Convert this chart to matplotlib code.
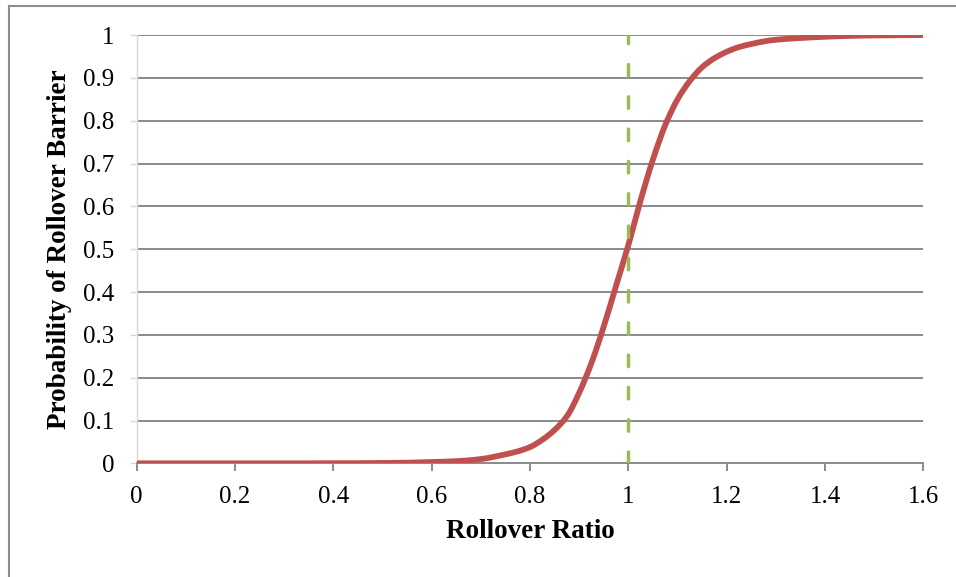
import matplotlib
matplotlib.use("Agg")
import matplotlib.pyplot as plt
from matplotlib.lines import Line2D
from matplotlib.path import Path
from matplotlib.patches import PathPatch

# Data
rollover_ratio = [0.0, 0.1, 0.2, 0.3, 0.4, 0.5, 0.55, 0.6, 0.65, 0.7, 0.75, 0.775,
                  0.8, 0.825, 0.85, 0.875, 0.9, 0.925, 0.95, 0.975, 1.0, 1.025,
                  1.05, 1.075, 1.1, 1.125, 1.15, 1.175, 1.2, 1.225, 1.25, 1.275,
                  1.3, 1.35, 1.4, 1.45, 1.5, 1.6]
probability = [0.0, 0.0, 0.0, 0.0, 0.0002, 0.0008, 0.0015, 0.003, 0.005, 0.01, 0.021, 0.028,
               0.038, 0.055, 0.078, 0.11, 0.165, 0.235, 0.32, 0.415, 0.51, 0.615,
               0.71, 0.79, 0.85, 0.893, 0.925, 0.946, 0.961, 0.972, 0.979, 0.985,
               0.989, 0.993, 0.996, 0.998, 0.999, 1.0]
barrier_x = [1.0, 1.0]
barrier_y = [0.0, 1.0]
x_ticks = [0, 0.2, 0.4, 0.6, 0.8, 1, 1.2, 1.4, 1.6]
x_tick_labels = ["0", "0.2", "0.4", "0.6", "0.8", "1", "1.2", "1.4", "1.6"]
y_ticks = [0, 0.1, 0.2, 0.3, 0.4, 0.5, 0.6, 0.7, 0.8, 0.9, 1]
y_tick_labels = ["0", "0.1", "0.2", "0.3", "0.4", "0.5", "0.6", "0.7", "0.8", "0.9", "1"]

plt.rcParams['font.family'] = ['Liberation Serif', 'DejaVu Serif']


def smooth_path(xs, ys):
    """Monotone cubic (Fritsch-Carlson) Bezier path through the data points,
    like a spreadsheet's smoothed line."""
    n = len(xs)
    h = [xs[i + 1] - xs[i] for i in range(n - 1)]
    d = [(ys[i + 1] - ys[i]) / h[i] for i in range(n - 1)]
    m = [0.0] * n
    m[0], m[-1] = d[0], d[-1]
    for i in range(1, n - 1):
        if d[i - 1] * d[i] <= 0:
            m[i] = 0.0
        else:
            w1 = 2 * h[i] + h[i - 1]
            w2 = h[i] + 2 * h[i - 1]
            m[i] = (w1 + w2) / (w1 / d[i - 1] + w2 / d[i])
    verts = [(xs[0], ys[0])]
    codes = [Path.MOVETO]
    for i in range(n - 1):
        verts += [(xs[i] + h[i] / 3, ys[i] + m[i] * h[i] / 3),
                  (xs[i + 1] - h[i] / 3, ys[i + 1] - m[i + 1] * h[i] / 3),
                  (xs[i + 1], ys[i + 1])]
        codes += [Path.CURVE4] * 3
    return Path(verts, codes)


fig = plt.figure(figsize=(9.56, 5.77), dpi=100)
ax = fig.add_axes([0.1429, 0.197, 0.966 - 0.1429, 0.9393 - 0.197])

grid_color = "#8a8a8a"
for yv in y_ticks[1:]:
    ax.axhline(yv, color=grid_color, lw=1.4, zorder=1)

curve = PathPatch(smooth_path(rollover_ratio, probability), fill=False,
                  edgecolor="#C0504D", lw=4.2, zorder=3, capstyle="butt",
                  joinstyle="round")
ax.add_patch(curve)
ax.plot(barrier_x, barrier_y, color="#9BBB59", lw=2.5, zorder=4,
        dashes=(3.3, 6.0), dash_capstyle="round")

ax.set_xlim(0, 1.6)
ax.set_ylim(0, 1)
ax.set_xticks(x_ticks)
ax.set_xticklabels(x_tick_labels)
ax.set_yticks(y_ticks)
ax.set_yticklabels(y_tick_labels)

for s in ["top", "right"]:
    ax.spines[s].set_visible(False)
ax.spines["bottom"].set_color(grid_color)
ax.spines["bottom"].set_linewidth(1.4)
ax.spines["left"].set_color("#d9d9d9")
ax.spines["left"].set_linewidth(1.0)

ax.tick_params(axis="x", direction="out", length=6, width=1.4, color=grid_color,
               labelsize=18, pad=10)
ax.tick_params(axis="y", direction="out", length=5, width=1.0, color="#d9d9d9",
               labelsize=18, pad=11)

ax.set_xlabel("Rollover Ratio", fontsize=19.5, fontweight="bold")
ax.set_ylabel("Probability of Rollover Barrier", fontsize=19.5, fontweight="bold")
ax.xaxis.set_label_coords(0.5, (463.3 - 519) / 428.3)
ax.yaxis.set_label_coords((72 - 136.6) / 786.9, 0.5)

# Figure border (top and left visible in the reference)
fig.add_artist(Line2D([9 / 956, 9 / 956], [0, 1 - 5.5 / 577], transform=fig.transFigure,
                      color="#8c8c8c", lw=1.5))
fig.add_artist(Line2D([9 / 956, 1], [1 - 5.5 / 577, 1 - 5.5 / 577], transform=fig.transFigure,
                      color="#8c8c8c", lw=1.5))

fig.savefig("out.png", dpi=100)
